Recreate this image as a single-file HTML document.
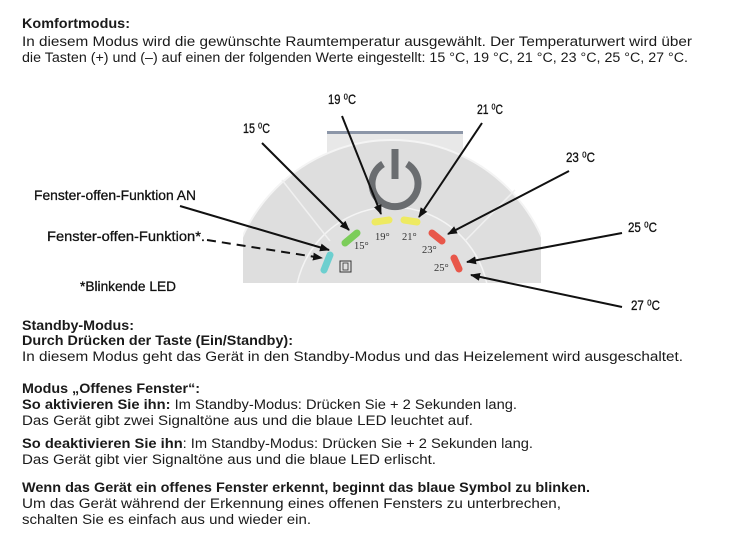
<!DOCTYPE html>
<html><head><meta charset="utf-8"><style>
html,body{margin:0;padding:0;background:#fff;}
svg{display:block}
.t{font-family:"Liberation Sans",sans-serif;font-size:13.5px;fill:#1a1a1a}
.b{font-weight:bold}
.d{font-family:"Liberation Sans",sans-serif;font-size:14px;fill:#111;stroke:#111;stroke-width:0.3}
.s{font-family:"Liberation Serif",serif;font-size:10.5px;fill:#333}
</style></head><body>
<svg width="739" height="535" viewBox="0 0 739 535" xmlns="http://www.w3.org/2000/svg">
<defs>
<marker id="a" markerWidth="10" markerHeight="8" refX="9" refY="4" orient="auto" markerUnits="userSpaceOnUse"><path d="M0,0 L10,4 L0,8 z" fill="#111"/></marker>
<clipPath id="c"><rect x="243" y="100" width="298" height="183"/></clipPath>
</defs>
<text class="t b" x="22" y="28" textLength="108" lengthAdjust="spacingAndGlyphs">Komfortmodus:</text>
<text class="t" x="22" y="46" textLength="670" lengthAdjust="spacingAndGlyphs">In diesem Modus wird die gewünschte Raumtemperatur ausgewählt. Der Temperaturwert wird über</text>
<text class="t" x="22" y="62" textLength="666" lengthAdjust="spacingAndGlyphs">die Tasten (+) und (–) auf einen der folgenden Werte eingestellt: 15 °C, 19 °C, 21 °C, 23 °C, 25 °C, 27 °C.</text>
<rect x="327" y="131" width="136" height="4" fill="#8c96a8"/>
<rect x="327" y="134" width="136" height="20" fill="#e8e8e8"/>
<g clip-path="url(#c)">
<circle cx="392" cy="304" r="164" fill="#dedede" stroke="#f4f4f4" stroke-width="2"/>
<circle cx="392" cy="304" r="97" fill="#e0e0e0" stroke="#f4f4f4" stroke-width="1.5"/>
<line x1="330" y1="241" x2="282" y2="180" stroke="#f0f0f0" stroke-width="1.5"/>
<line x1="465" y1="241" x2="515" y2="190" stroke="#f0f0f0" stroke-width="1.5"/>
</g>
<path d="M383,164 A23,23 0 1 0 407,164" fill="none" stroke="#6a6d70" stroke-width="7"/>
<line x1="395" y1="149" x2="395" y2="179" stroke="#6a6d70" stroke-width="7"/>
<g stroke-linecap="round" stroke-width="7">
<line x1="324" y1="270" x2="330" y2="255" stroke="#6dcfcf"/>
<line x1="345" y1="243" x2="357" y2="233" stroke="#7ccd5a"/>
<line x1="375" y1="222" x2="389" y2="220" stroke="#eeea62"/>
<line x1="404" y1="220" x2="417" y2="222" stroke="#eeea62"/>
<line x1="432" y1="233" x2="442" y2="241" stroke="#e8574a"/>
<line x1="454" y1="258" x2="459" y2="269" stroke="#e8574a"/>
</g>
<text class="s" x="354" y="249">15°</text>
<text class="s" x="375" y="240">19°</text>
<text class="s" x="402" y="240">21°</text>
<text class="s" x="422" y="253">23°</text>
<text class="s" x="434" y="271">25°</text>
<rect x="340" y="261" width="11" height="11" fill="none" stroke="#333" stroke-width="1"/>
<rect x="343" y="263" width="5" height="7" fill="none" stroke="#333" stroke-width="0.8"/>
<text class="d" x="243" y="133" textLength="27" lengthAdjust="spacingAndGlyphs">15 ⁰C</text>
<text class="d" x="328" y="104" textLength="28" lengthAdjust="spacingAndGlyphs">19 ⁰C</text>
<text class="d" x="477" y="114" textLength="26" lengthAdjust="spacingAndGlyphs">21 ⁰C</text>
<text class="d" x="566" y="162" textLength="29" lengthAdjust="spacingAndGlyphs">23 ⁰C</text>
<text class="d" x="628" y="232" textLength="29" lengthAdjust="spacingAndGlyphs">25 ⁰C</text>
<text class="d" x="631" y="310" textLength="29" lengthAdjust="spacingAndGlyphs">27 ⁰C</text>
<text class="d" x="34" y="200" textLength="162" lengthAdjust="spacingAndGlyphs">Fenster-offen-Funktion AN</text>
<text class="d" x="47" y="241" textLength="158" lengthAdjust="spacingAndGlyphs">Fenster-offen-Funktion*.</text>
<text class="d" x="80" y="291" textLength="96" lengthAdjust="spacingAndGlyphs">*Blinkende LED</text>
<g stroke="#111" stroke-width="2" fill="none" marker-end="url(#a)">
<line x1="262" y1="143" x2="349" y2="230"/>
<line x1="342" y1="116" x2="381" y2="214"/>
<line x1="482" y1="123" x2="419" y2="217"/>
<line x1="569" y1="171" x2="448" y2="234"/>
<line x1="622" y1="233" x2="467" y2="262"/>
<line x1="622" y1="307" x2="471" y2="275"/>
<line x1="180" y1="206" x2="329" y2="250"/>
<line x1="207" y1="240" x2="322" y2="258" stroke-dasharray="9,6"/>
</g>
<text class="t b" x="22" y="330" textLength="112" lengthAdjust="spacingAndGlyphs">Standby-Modus:</text>
<text class="t b" x="22" y="345" textLength="271" lengthAdjust="spacingAndGlyphs">Durch Drücken der Taste (Ein/Standby):</text>
<text class="t" x="22" y="361" textLength="661" lengthAdjust="spacingAndGlyphs">In diesem Modus geht das Gerät in den Standby-Modus und das Heizelement wird ausgeschaltet.</text>
<text class="t b" x="22" y="393" textLength="178" lengthAdjust="spacingAndGlyphs">Modus „Offenes Fenster“:</text>
<text class="t" x="22" y="409" textLength="495" lengthAdjust="spacingAndGlyphs"><tspan class="b">So aktivieren Sie ihn:</tspan> Im Standby-Modus: Drücken Sie + 2 Sekunden lang.</text>
<text class="t" x="22" y="425" textLength="451" lengthAdjust="spacingAndGlyphs">Das Gerät gibt zwei Signaltöne aus und die blaue LED leuchtet auf.</text>
<text class="t" x="22" y="448" textLength="511" lengthAdjust="spacingAndGlyphs"><tspan class="b">So deaktivieren Sie ihn</tspan>: Im Standby-Modus: Drücken Sie + 2 Sekunden lang.</text>
<text class="t" x="22" y="464" textLength="414" lengthAdjust="spacingAndGlyphs">Das Gerät gibt vier Signaltöne aus und die blaue LED erlischt.</text>
<text class="t b" x="22" y="492" textLength="568" lengthAdjust="spacingAndGlyphs">Wenn das Gerät ein offenes Fenster erkennt, beginnt das blaue Symbol zu blinken.</text>
<text class="t" x="22" y="508" textLength="539" lengthAdjust="spacingAndGlyphs">Um das Gerät während der Erkennung eines offenen Fensters zu unterbrechen,</text>
<text class="t" x="22" y="524" textLength="289" lengthAdjust="spacingAndGlyphs">schalten Sie es einfach aus und wieder ein.</text>
</svg>
</body></html>
